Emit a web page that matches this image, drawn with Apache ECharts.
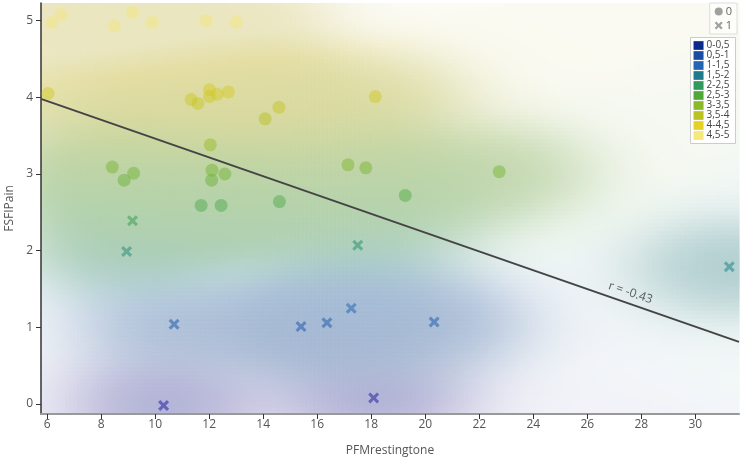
<!DOCTYPE html>
<html><head><meta charset="utf-8">
<script src="https://cdn.jsdelivr.net/npm/echarts@6/dist/echarts.min.js"></script>
<style>html,body{margin:0;padding:0;background:#fff}#c{width:740px;height:460px}</style>
</head><body><div id="c"></div>
<script>
// ---- data ----
const group0X = [6.17,6.52,8.49,9.16,9.89,11.89,13.0,6.03,11.33,11.58,12.01,12.01,12.3,12.71,14.07,14.58,18.15,8.41,8.85,9.2,12.04,12.1,12.09,12.58,17.14,17.8,14.6,11.7,12.44,19.26,22.74];
const group0Y = [4.975,5.08,4.93,5.11,4.98,5.0,4.98,4.05,3.97,3.92,4.10,4.01,4.04,4.07,3.72,3.87,4.01,3.09,2.92,3.01,3.38,3.05,2.92,3.0,3.12,3.08,2.64,2.59,2.59,2.72,3.03];
const group1X = [9.16,8.94,17.5,10.7,15.4,16.36,17.26,10.31,18.09,20.33,31.26];
const group1Y = [2.39,1.99,2.07,1.04,1.01,1.06,1.25,-0.02,0.08,1.07,1.79];
const groupNames = ['0','1'];
const xTicks = [6,8,10,12,14,16,18,20,22,24,26,28,30];
const yTicks = [0,1,2,3,4,5];
const legendLabels = ['0-0,5','0,5-1','1-1,5','1,5-2','2-2,5','2,5-3','3-3,5','3,5-4','4-4,5','4,5-5'];
const legendMins = [0,0.5,1,1.5,2,2.5,3,3.5,4,4.5];
const legendColors = ['#0c2a8c','#1b4ca3','#2465b3','#1f7b8c','#2f9a5c','#4ea93a','#8cb92a','#bcc222','#e5d123','#f5e97b'];
const markColors = ['#3030a4','#2a55a8','#2f6fb6','#2a8a92','#3a9e66','#5aae42','#8cb92a','#bcc222','#e0cf2a','#f2e67c'];
const trendX = [5.77, 31.62];
const trendY = [3.98, 0.81];
const rLabel = 'r = -0.43';
const rLabelPos = [27.6, 1.45];
const xName = 'PFMrestingtone';
const yName = 'FSFIPain';

// ---- helpers ----
const XMIN = 5.77, XMAX = 31.62, YMIN = -0.13, YMAX = 5.23;
function hex2rgb(h){return [parseInt(h.slice(1,3),16),parseInt(h.slice(3,5),16),parseInt(h.slice(5,7),16)];}
const rampRGB = markColors.map(hex2rgb);
function ramp(v){
  let t = (v - 0.25) / 0.5;
  if (t <= 0) return rampRGB[0].slice();
  if (t >= rampRGB.length-1) return rampRGB[rampRGB.length-1].slice();
  const i = Math.floor(t), f = t - i;
  const a = rampRGB[i], b = rampRGB[i+1];
  return [a[0]+(b[0]-a[0])*f, a[1]+(b[1]-a[1])*f, a[2]+(b[2]-a[2])*f];
}
function rgba(c, a){return 'rgba('+Math.round(c[0])+','+Math.round(c[1])+','+Math.round(c[2])+','+a+')';}

const allX = group0X.concat(group1X), allY = group0Y.concat(group1Y);
const SVX = 3.0, SVY = 0.45, SDX = 2.2, SDY = 0.4;
function field(x, y){
  const es = []; let maxE = -Infinity, D = 0;
  for (let i=0;i<allX.length;i++){
    const dx=(x-allX[i])/SVX, dy=(y-allY[i])/SVY;
    const e=-0.5*(dx*dx+dy*dy); es.push(e); if(e>maxE)maxE=e;
    const ddx=(x-allX[i])/SDX, ddy=(y-allY[i])/SDY;
    D += Math.exp(-0.5*(ddx*ddx+ddy*ddy));
  }
  let sw=0, sv=0;
  for (let i=0;i<allX.length;i++){const w=Math.exp(es[i]-maxE); sw+=w; sv+=w*allY[i];}
  return [sv/sw, D];
}
const NX = 175, NY = 103;
const cellW = (XMAX-XMIN)/NX, cellH = (YMAX-YMIN)/NY;
const cells = [], cellColors = [];
for (let j=0;j<NY;j++){
  for (let i=0;i<NX;i++){
    const cx = XMIN + (i+0.5)*cellW, cy = YMIN + (j+0.5)*cellH;
    const f = field(cx, cy);
    const a = 0.06 + 0.36*(1-Math.exp(-1.5*f[1]));
    const c = ramp(f[0]).map(v => v*0.85);
    const r = 255 + (c[0]-255)*a, g = 255 + (c[1]-255)*a, b = 255 + (c[2]-255)*a;
    cells.push([cx, cy]);
    cellColors.push('rgb('+Math.round(r)+','+Math.round(g)+','+Math.round(b)+')');
  }
}
const crossPath = 'path://M0,2 L2,0 L5,3 L8,0 L10,2 L7,5 L10,8 L8,10 L5,7 L2,10 L0,8 L3,5 Z';
const FONT = 'Open Sans';

const chart = echarts.init(document.getElementById('c'), null, {renderer:'canvas'});
chart.setOption({
  animation: false,
  backgroundColor: '#fff',
  textStyle: {fontFamily: FONT},
  grid: {left: 41, right: 1, top: 3, bottom: 46, containLabel: false, outerBoundsMode: 'none'},
  xAxis: {
    type: 'value', min: XMIN, max: XMAX,
    name: xName, nameLocation: 'middle', nameGap: 31,
    nameTextStyle: {color: '#555', fontSize: 12, fontFamily: FONT},
    axisLine: {show: true, onZero: false, lineStyle: {color: '#999', width: 2}},
    axisTick: {show: true, customValues: xTicks, length: 5, lineStyle: {color: '#333'}},
    axisLabel: {customValues: xTicks, color: '#555', fontSize: 12, margin: 5, fontFamily: FONT},
    splitLine: {show: false}
  },
  yAxis: {
    type: 'value', min: YMIN, max: YMAX,
    name: yName, nameLocation: 'middle', nameGap: 25,
    nameTextStyle: {color: '#555', fontSize: 12, fontFamily: FONT},
    axisLine: {show: true, onZero: false, lineStyle: {color: '#333', width: 1.5}},
    axisTick: {show: true, customValues: yTicks, length: 5, lineStyle: {color: '#333'}},
    axisLabel: {customValues: yTicks, color: '#555', fontSize: 12, margin: 8, fontFamily: FONT},
    splitLine: {show: false}
  },
  legend: {
    orient: 'vertical', right: 3, top: 3, padding: [3,5,3,5], itemGap: 3,
    itemWidth: 8, itemHeight: 8, borderColor: '#ddd', borderWidth: 1,
    backgroundColor: 'rgba(255,255,255,0.6)', selectedMode: false,
    textStyle: {color: '#666', fontSize: 11, fontFamily: FONT, padding: [0,0,0,-2]},
    data: [
      {name: groupNames[0], icon: 'circle', itemStyle: {color: '#888'}},
      {name: groupNames[1], icon: crossPath, itemStyle: {color: '#888'}}
    ]
  },
  visualMap: {
    type: 'piecewise', seriesIndex: 5, dimension: 1, inverse: true, align: 'left',
    orient: 'vertical', right: 4, top: 37,
    itemWidth: 10, itemHeight: 8.7, itemGap: 0, textGap: 3, itemSymbol: 'rect',
    padding: [3,6,3,3], borderColor: '#ccc', borderWidth: 1, backgroundColor: '#fff',
    textStyle: {color: '#444', fontSize: 10, lineHeight: 9, fontFamily: FONT},
    selectedMode: false,
    pieces: legendLabels.map((l, i) => ({min: legendMins[i], max: legendMins[i]+0.5, label: l, color: legendColors[i]}))
  },
  series: [
    {
      type: 'custom', silent: true, z: 0, progressive: 0,
      data: cells,
      renderItem: function(params, api){
        const x = api.value(0), y = api.value(1);
        const p0 = api.coord([x - cellW/2, y + cellH/2]);
        const p1 = api.coord([x + cellW/2, y - cellH/2]);
        return {type: 'rect', shape: {x: p0[0], y: p0[1], width: p1[0]-p0[0]+0.6, height: p1[1]-p0[1]+0.6},
          style: {fill: cellColors[params.dataIndex]}};
      }
    },
    {
      type: 'line', name: 'trend', z: 3, symbol: 'none', silent: true,
      data: trendX.map((x, i) => [x, trendY[i]]),
      lineStyle: {color: '#444', width: 2}
    },
    {
      type: 'scatter', name: 'rlabel', z: 4, symbolSize: 0, silent: true,
      data: [rLabelPos],
      label: {show: true, position: 'inside', formatter: rLabel, rotate: -19, color: '#333', fontSize: 12, fontFamily: FONT}
    },
    {
      type: 'scatter', name: groupNames[0], z: 5, symbol: 'circle', symbolSize: 13,
      data: group0X.map((x, i) => [x, group0Y[i]]),
      itemStyle: {color: p => rgba(ramp(p.value[1]), 0.62)}
    },
    {
      type: 'scatter', name: groupNames[1], z: 5, symbol: crossPath, symbolSize: 11,
      data: group1X.map((x, i) => [x, group1Y[i]]),
      itemStyle: {color: p => rgba(ramp(p.value[1]), 0.75)}
    },
    {type: 'scatter', name: 'vm', data: [], silent: true}
  ]
});
</script></body></html>
